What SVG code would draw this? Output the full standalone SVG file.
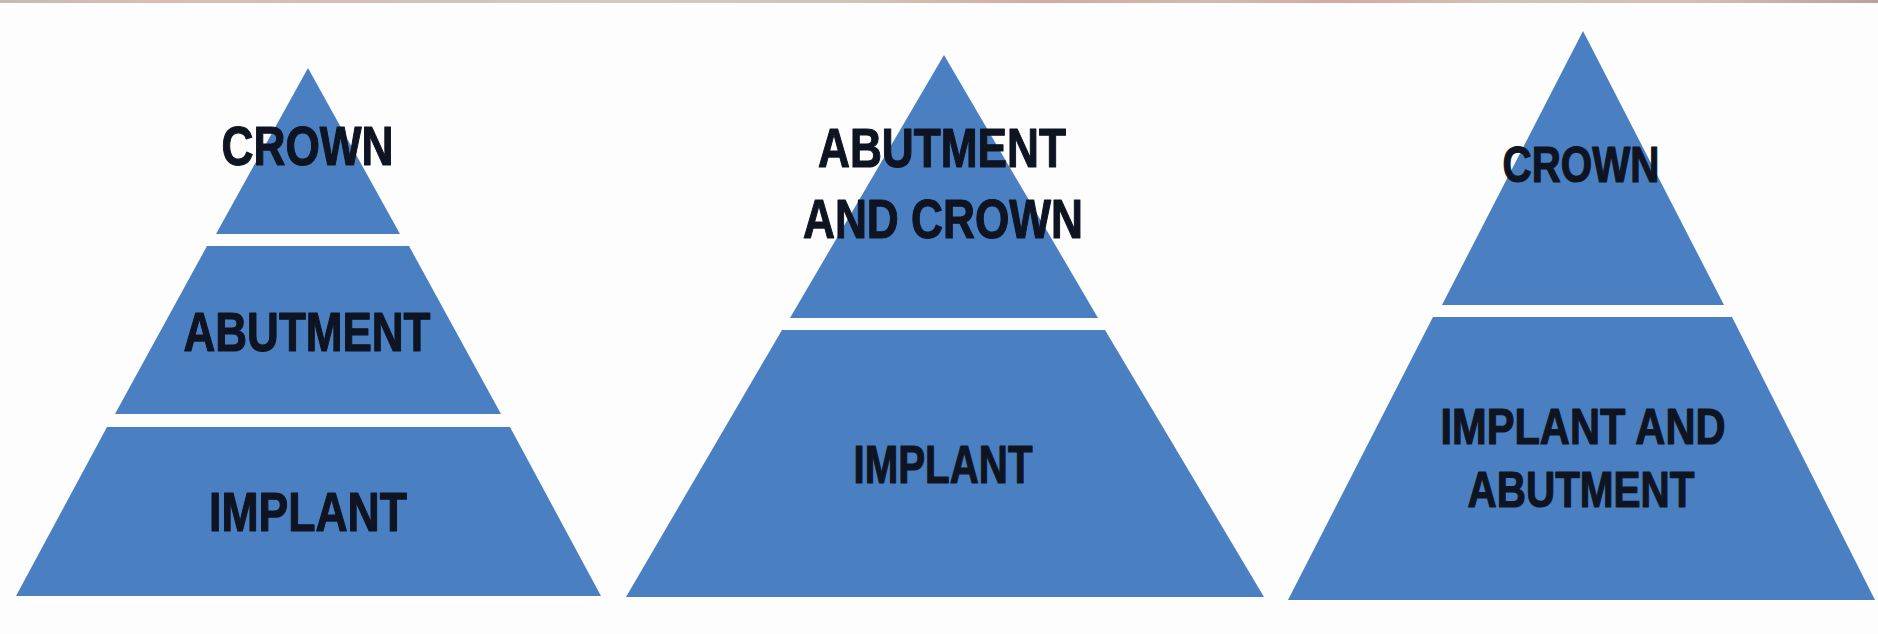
<svg xmlns="http://www.w3.org/2000/svg" width="1878" height="634" viewBox="0 0 1878 634">
  <defs>
    <linearGradient id="topbar" x1="0" y1="0" x2="1" y2="0">
      <stop offset="0" stop-color="#c2bcb2"/>
      <stop offset="0.08" stop-color="#dcbcb2"/>
      <stop offset="0.2" stop-color="#d2c0b6"/>
      <stop offset="0.3" stop-color="#d0cac4"/>
      <stop offset="0.45" stop-color="#cfc6b8"/>
      <stop offset="0.56" stop-color="#d4aaa2"/>
      <stop offset="0.65" stop-color="#cfbcb0"/>
      <stop offset="0.71" stop-color="#d5a8a2"/>
      <stop offset="0.8" stop-color="#d0c4b6"/>
      <stop offset="0.9" stop-color="#d3c0b4"/>
      <stop offset="1" stop-color="#bca09a"/>
    </linearGradient>
    <style>
      .band { fill: #4a80c2; }
      .lbl { font-family: "Liberation Sans", Arial, sans-serif; font-weight: bold; fill: #0f1422; stroke: #0f1422; stroke-width: 1.2; stroke-linejoin: round; text-anchor: middle; }
    </style>
  </defs>
  <rect x="0" y="0" width="1878" height="634" fill="#fdfdfd"/>
  <rect x="0" y="0" width="1878" height="3" fill="url(#topbar)"/>

  <g id="pyramid1">
    <g id="p1-crown">
      <polygon class="band" points="308,68 400,234 216,234"/>
      <text class="lbl" x="307.5" y="165" font-size="56" textLength="172" lengthAdjust="spacingAndGlyphs">CROWN</text>
    </g>
    <g id="p1-abutment">
      <polygon class="band" points="207,246 409,246 501,414 115,414"/>
      <text class="lbl" x="307" y="351" font-size="56" textLength="247" lengthAdjust="spacingAndGlyphs">ABUTMENT</text>
    </g>
    <g id="p1-implant">
      <polygon class="band" points="107,427 510,427 601,596 16,596"/>
      <text class="lbl" x="308" y="531" font-size="56" textLength="198" lengthAdjust="spacingAndGlyphs">IMPLANT</text>
    </g>
  </g>

  <g id="pyramid2">
    <g id="p2-abutment-crown">
      <polygon class="band" points="944,55 1098,318 790,318"/>
      <text class="lbl" x="942" y="167" font-size="56" textLength="248" lengthAdjust="spacingAndGlyphs">ABUTMENT</text>
      <text class="lbl" x="943" y="238" font-size="56" textLength="280" lengthAdjust="spacingAndGlyphs">AND CROWN</text>
    </g>
    <g id="p2-implant">
      <polygon class="band" points="782,330 1105,330 1264,597 626,597"/>
      <text class="lbl" x="943" y="483" font-size="53" textLength="179" lengthAdjust="spacingAndGlyphs">IMPLANT</text>
    </g>
  </g>

  <g id="pyramid3">
    <g id="p3-crown">
      <polygon class="band" points="1583,31 1724,305 1442,305"/>
      <text class="lbl" x="1581" y="182" font-size="50" textLength="157" lengthAdjust="spacingAndGlyphs">CROWN</text>
    </g>
    <g id="p3-implant-abutment">
      <polygon class="band" points="1433,317 1732,317 1875,600 1288,600"/>
      <text class="lbl" x="1583" y="444" font-size="50" textLength="285" lengthAdjust="spacingAndGlyphs">IMPLANT AND</text>
      <text class="lbl" x="1581" y="507" font-size="50" textLength="227" lengthAdjust="spacingAndGlyphs">ABUTMENT</text>
    </g>
  </g>

  <g id="connectors"/>
</svg>
